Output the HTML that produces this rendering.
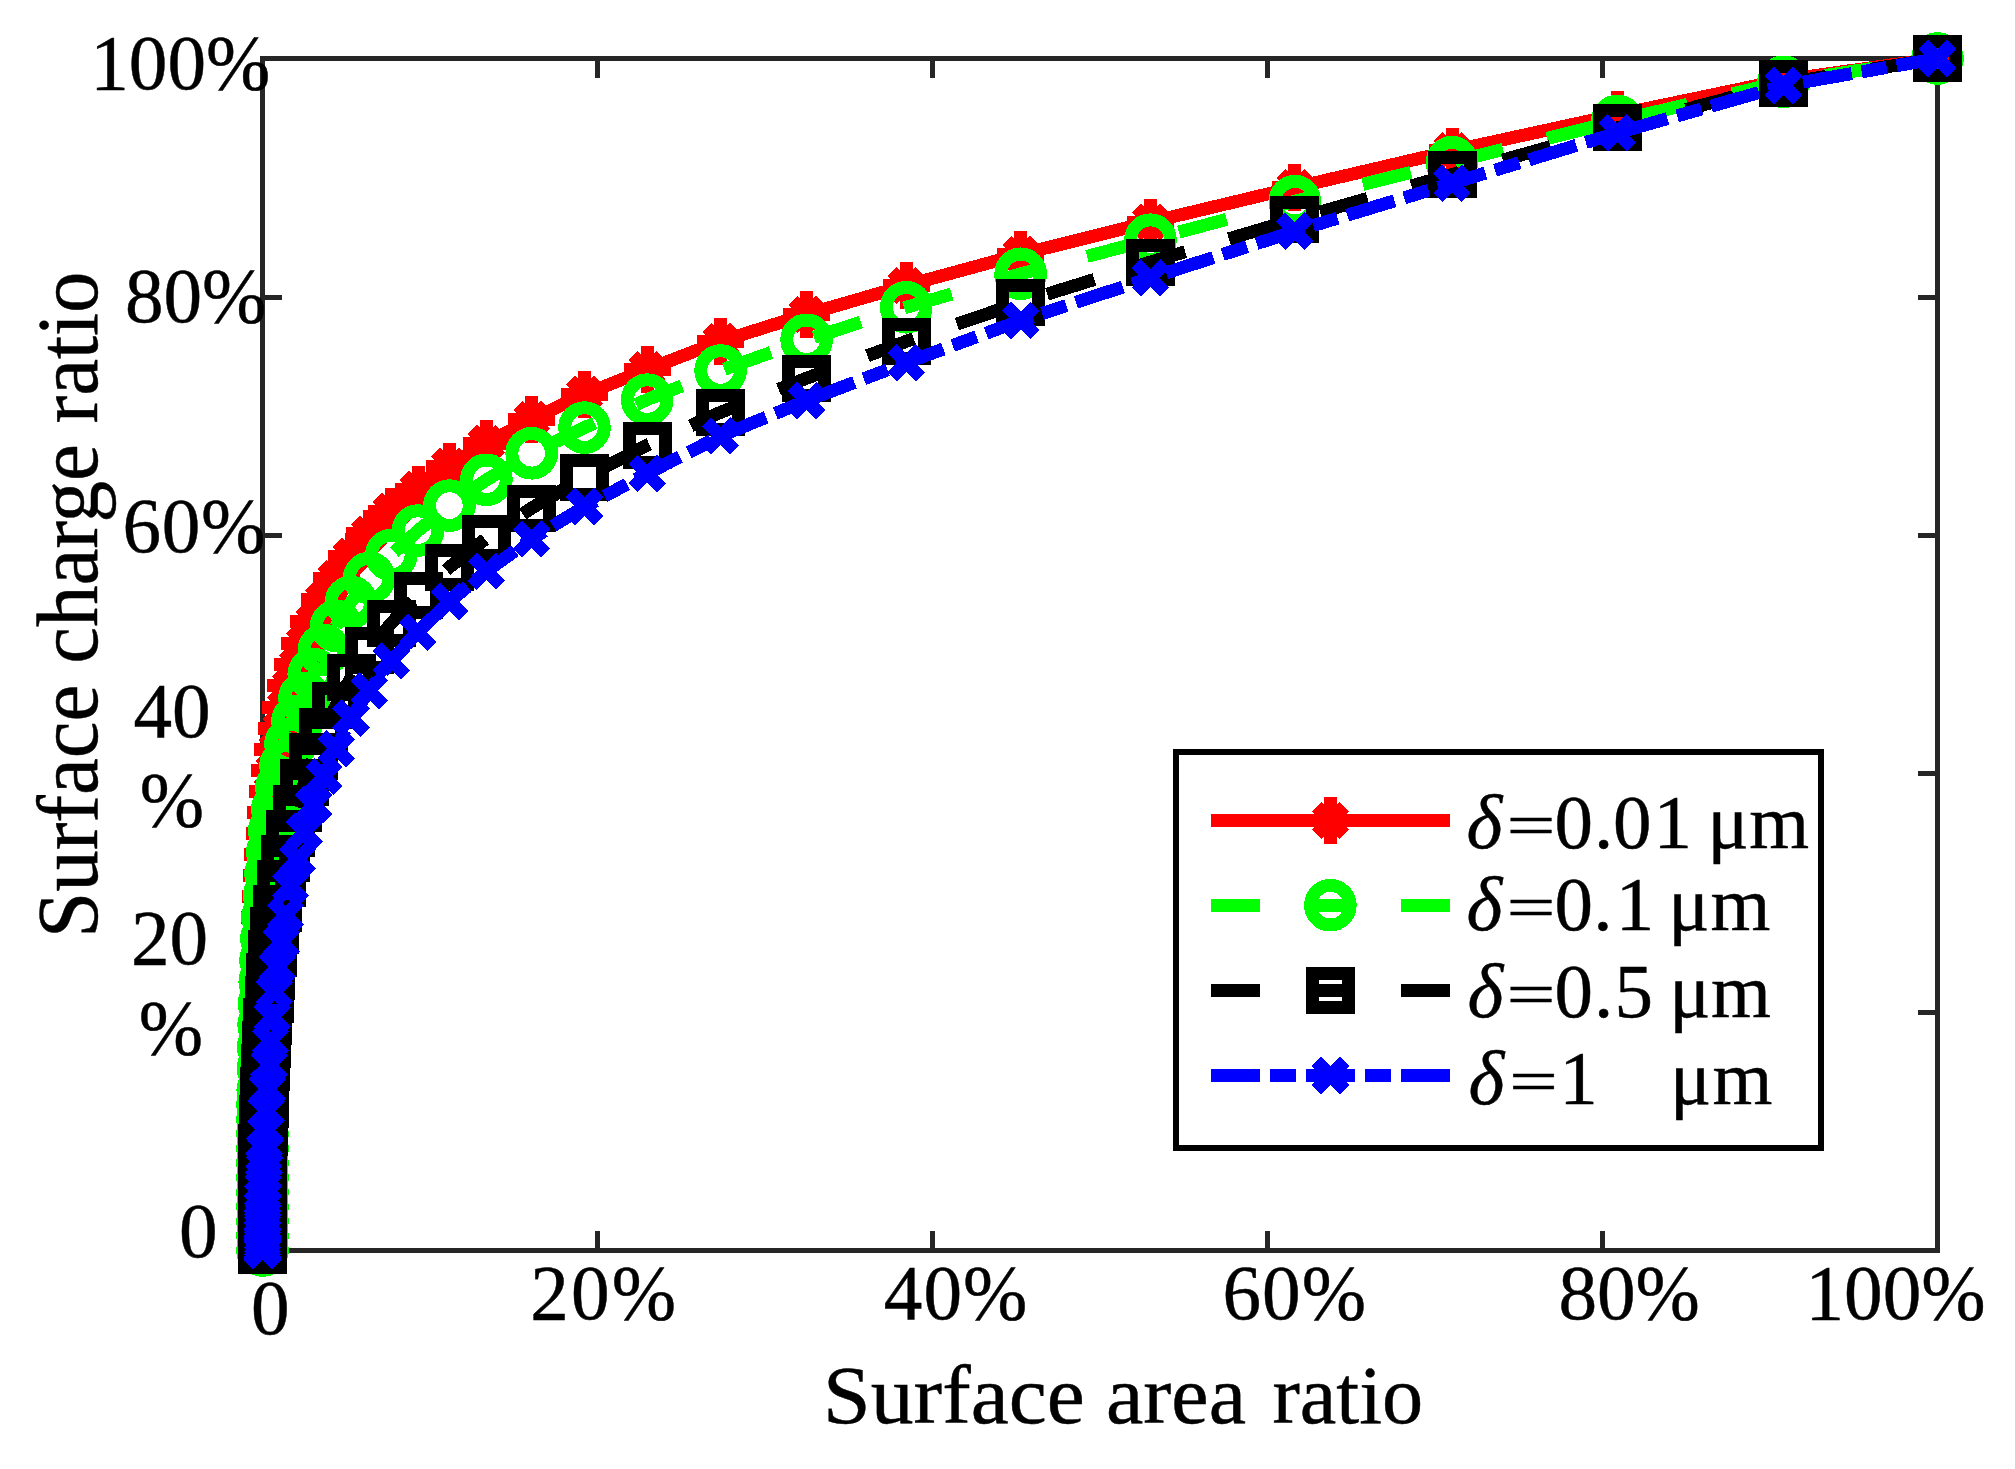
<!DOCTYPE html>
<html><head><meta charset="utf-8"><title>Surface charge ratio</title><style>html,body{margin:0;padding:0;background:#fff}svg{display:block}</style></head><body>
<svg width="2015" height="1469" viewBox="0 0 2015 1469" font-family="'Liberation Serif', serif" fill="#000">
<style>text{stroke:#000;stroke-width:0.45px}</style>
<rect width="2015" height="1469" fill="#fff"/>
<g stroke="#262626" stroke-width="4.8" fill="none" shape-rendering="crispEdges">
<rect x="262.5" y="58.75" width="1675.0" height="1191.75"/>
<path d="M597.5 1250.5v-19.5M597.5 58.75v19.5M262.5 1012.1h19.5M1937.5 1012.1h-19.5M932.5 1250.5v-19.5M932.5 58.75v19.5M262.5 773.8h19.5M1937.5 773.8h-19.5M1267.5 1250.5v-19.5M1267.5 58.75v19.5M262.5 535.5h19.5M1937.5 535.5h-19.5M1602.5 1250.5v-19.5M1602.5 58.75v19.5M262.5 297.1h19.5M1937.5 297.1h-19.5"/>
</g>
<g stroke="#ff0000" stroke-width="13" fill="none" shape-rendering="crispEdges">
<polyline points="1937.5,58.5 1783.5,80 1617.3,114.7 1452,150.8 1294.8,187.5 1150.5,222 1020.7,254.2 906.2,285.5 806.6,314.3 720.6,341.3 647.2,369.4 584.5,394.3 531.7,419.2 486.4,443.3 449.4,466.2 418,489.1 391.3,511.4 369.2,533.7 351,556 336.2,578.4 323.9,599.8 313.7,621.5 304.5,643.3 297.5,664.4 290.5,685.5 285.5,707.3 281.4,728.4 277.3,749.4 274.3,770.4 272.3,791.4 270.5,812.4 269.2,833.4 267.4,854.4 266.4,875.4 265.5,896.4 264.7,917.5 264.1,938.5 263.6,959.5 263.2,980.6 262.9,1001.6 262.7,1022.6 262.5,1043.7 262.5,1064.7 262.5,1085.8 262.5,1106.8 262.5,1127.8 262.5,1148.9 262.5,1169.9 262.5,1190.9 262.5,1212 262.5,1233 262.5,1250.5" />
<path d="M1937.5 35.2V81.8M1914.2 58.5H1960.8M1923.6 44.6L1951.4 72.4M1923.6 72.4L1951.4 44.6"/>
<path d="M1783.5 56.7V103.3M1760.2 80H1806.8M1769.6 66.1L1797.4 93.9M1769.6 93.9L1797.4 66.1"/>
<path d="M1617.3 91.4V138M1594 114.7H1640.6M1603.4 100.8L1631.2 128.6M1603.4 128.6L1631.2 100.8"/>
<path d="M1452 127.5V174.1M1428.7 150.8H1475.3M1438.1 136.9L1465.9 164.7M1438.1 164.7L1465.9 136.9"/>
<path d="M1294.8 164.2V210.8M1271.5 187.5H1318.1M1280.9 173.6L1308.7 201.4M1280.9 201.4L1308.7 173.6"/>
<path d="M1150.5 198.7V245.3M1127.2 222H1173.8M1136.6 208.1L1164.4 235.9M1136.6 235.9L1164.4 208.1"/>
<path d="M1020.7 230.9V277.5M997.4 254.2H1044M1006.8 240.3L1034.6 268.1M1006.8 268.1L1034.6 240.3"/>
<path d="M906.2 262.2V308.8M882.9 285.5H929.5M892.3 271.6L920.1 299.4M892.3 299.4L920.1 271.6"/>
<path d="M806.6 291V337.6M783.3 314.3H829.9M792.7 300.4L820.5 328.2M792.7 328.2L820.5 300.4"/>
<path d="M720.6 318V364.6M697.3 341.3H743.9M706.7 327.4L734.5 355.2M706.7 355.2L734.5 327.4"/>
<path d="M647.2 346.1V392.7M623.9 369.4H670.5M633.3 355.5L661.1 383.3M633.3 383.3L661.1 355.5"/>
<path d="M584.5 371V417.6M561.2 394.3H607.8M570.6 380.4L598.4 408.2M570.6 408.2L598.4 380.4"/>
<path d="M531.7 395.9V442.5M508.4 419.2H555M517.8 405.3L545.6 433.1M517.8 433.1L545.6 405.3"/>
<path d="M486.4 420V466.6M463.1 443.3H509.7M472.5 429.4L500.3 457.2M472.5 457.2L500.3 429.4"/>
<path d="M449.4 442.9V489.5M426.1 466.2H472.7M435.5 452.3L463.3 480.1M435.5 480.1L463.3 452.3"/>
<path d="M418 465.8V512.4M394.7 489.1H441.3M404.1 475.2L431.9 503M404.1 503L431.9 475.2"/>
<path d="M391.3 488.1V534.7M368 511.4H414.6M377.4 497.5L405.2 525.3M377.4 525.3L405.2 497.5"/>
<path d="M369.2 510.4V557M345.9 533.7H392.5M355.3 519.8L383.1 547.6M355.3 547.6L383.1 519.8"/>
<path d="M351 532.7V579.3M327.7 556H374.3M337.1 542.1L364.9 569.9M337.1 569.9L364.9 542.1"/>
<path d="M336.2 555.1V601.7M312.9 578.4H359.5M322.3 564.5L350.1 592.3M322.3 592.3L350.1 564.5"/>
<path d="M323.9 576.5V623.1M300.6 599.8H347.2M310 585.9L337.8 613.7M310 613.7L337.8 585.9"/>
<path d="M313.7 598.2V644.8M290.4 621.5H337M299.8 607.6L327.6 635.4M299.8 635.4L327.6 607.6"/>
<path d="M304.5 620V666.6M281.2 643.3H327.8M290.6 629.4L318.4 657.2M290.6 657.2L318.4 629.4"/>
<path d="M297.5 641.1V687.7M274.2 664.4H320.8M283.6 650.5L311.4 678.3M283.6 678.3L311.4 650.5"/>
<path d="M290.5 662.2V708.8M267.2 685.5H313.8M276.6 671.6L304.4 699.4M276.6 699.4L304.4 671.6"/>
<path d="M285.5 684V730.6M262.2 707.3H308.8M271.6 693.4L299.4 721.2M271.6 721.2L299.4 693.4"/>
<path d="M281.4 705.1V751.7M258.1 728.4H304.7M267.5 714.5L295.3 742.3M267.5 742.3L295.3 714.5"/>
<path d="M277.3 726.1V772.7M254 749.4H300.6M263.4 735.5L291.2 763.3M263.4 763.3L291.2 735.5"/>
<path d="M274.3 747.1V793.7M251 770.4H297.6M260.4 756.5L288.2 784.3M260.4 784.3L288.2 756.5"/>
<path d="M272.3 768.1V814.7M249 791.4H295.6M258.4 777.5L286.2 805.3M258.4 805.3L286.2 777.5"/>
<path d="M270.5 789.1V835.7M247.2 812.4H293.8M256.6 798.5L284.4 826.3M256.6 826.3L284.4 798.5"/>
<path d="M269.2 810.1V856.7M245.9 833.4H292.5M255.3 819.5L283.1 847.3M255.3 847.3L283.1 819.5"/>
<path d="M267.4 831.1V877.7M244.1 854.4H290.7M253.5 840.5L281.3 868.3M253.5 868.3L281.3 840.5"/>
<path d="M266.4 852.1V898.7M243.1 875.4H289.7M252.5 861.5L280.3 889.3M252.5 889.3L280.3 861.5"/>
<path d="M265.5 873.1V919.7M242.2 896.4H288.8M251.6 882.5L279.4 910.3M251.6 910.3L279.4 882.5"/>
<path d="M264.7 894.2V940.8M241.4 917.5H288M250.8 903.6L278.6 931.4M250.8 931.4L278.6 903.6"/>
<path d="M264.1 915.2V961.8M240.8 938.5H287.4M250.2 924.6L278 952.4M250.2 952.4L278 924.6"/>
<path d="M263.6 936.2V982.8M240.3 959.5H286.9M249.7 945.6L277.5 973.4M249.7 973.4L277.5 945.6"/>
<path d="M263.2 957.3V1003.9M239.9 980.6H286.5M249.3 966.7L277.1 994.5M249.3 994.5L277.1 966.7"/>
<path d="M262.9 978.3V1024.9M239.6 1001.6H286.2M249 987.7L276.8 1015.5M249 1015.5L276.8 987.7"/>
<path d="M262.7 999.3V1045.9M239.4 1022.6H286M248.8 1008.7L276.6 1036.5M248.8 1036.5L276.6 1008.7"/>
<path d="M262.5 1020.4V1067M239.2 1043.7H285.8M248.6 1029.8L276.4 1057.6M248.6 1057.6L276.4 1029.8"/>
<path d="M262.5 1041.4V1088M239.2 1064.7H285.8M248.6 1050.8L276.4 1078.6M248.6 1078.6L276.4 1050.8"/>
<path d="M262.5 1062.5V1109.1M239.2 1085.8H285.8M248.6 1071.9L276.4 1099.7M248.6 1099.7L276.4 1071.9"/>
<path d="M262.5 1083.5V1130.1M239.2 1106.8H285.8M248.6 1092.9L276.4 1120.7M248.6 1120.7L276.4 1092.9"/>
<path d="M262.5 1104.5V1151.1M239.2 1127.8H285.8M248.6 1113.9L276.4 1141.7M248.6 1141.7L276.4 1113.9"/>
<path d="M262.5 1125.6V1172.2M239.2 1148.9H285.8M248.6 1135L276.4 1162.8M248.6 1162.8L276.4 1135"/>
<path d="M262.5 1146.6V1193.2M239.2 1169.9H285.8M248.6 1156L276.4 1183.8M248.6 1183.8L276.4 1156"/>
<path d="M262.5 1167.6V1214.2M239.2 1190.9H285.8M248.6 1177L276.4 1204.8M248.6 1204.8L276.4 1177"/>
<path d="M262.5 1188.7V1235.3M239.2 1212H285.8M248.6 1198.1L276.4 1225.9M248.6 1225.9L276.4 1198.1"/>
<path d="M262.5 1209.7V1256.3M239.2 1233H285.8M248.6 1219.1L276.4 1246.9M248.6 1246.9L276.4 1219.1"/>
<path d="M262.5 1227.2V1273.8M239.2 1250.5H285.8M248.6 1236.6L276.4 1264.4M248.6 1264.4L276.4 1236.6"/>
</g>
<g stroke="#00ff00" stroke-width="13" fill="none" shape-rendering="crispEdges">
<polyline points="1937.5,58.5 1783.5,81.8 1617.3,120.9 1452,162.2 1294.8,201.2 1150.5,239.7 1020.7,273.8 906.2,307.3 806.6,339.8 720.6,370.5 647.2,399.6 584.5,427.6 531.7,453.3 486.4,479.8 449.4,505.6 418,530.6 391.3,555 369.2,578 351,602 336.2,626 323.9,650 313.7,674 304.5,698 297.5,721 290.5,744 285.5,765.6 281.4,787.2 277.3,808.9 274.3,830.5 272.3,852.1 270.5,873.8 269.2,895.4 267.4,917 266.4,938.6 265.5,960.2 264.7,981.9 264.1,1003.5 263.6,1025.1 263.2,1046.8 262.9,1068.4 262.7,1090 262.5,1104.6 262.5,1119.2 262.5,1133.8 262.5,1148.4 262.5,1163 262.5,1177.5 262.5,1192.1 262.5,1206.7 262.5,1221.3 262.5,1235.9 262.5,1250.5" stroke-dasharray="49.5 45.5" stroke-dashoffset="30.7"/>
<circle cx="1937.5" cy="58.5" r="19.8"/>
<circle cx="1783.5" cy="81.8" r="19.8"/>
<circle cx="1617.3" cy="120.9" r="19.8"/>
<circle cx="1452" cy="162.2" r="19.8"/>
<circle cx="1294.8" cy="201.2" r="19.8"/>
<circle cx="1150.5" cy="239.7" r="19.8"/>
<circle cx="1020.7" cy="273.8" r="19.8"/>
<circle cx="906.2" cy="307.3" r="19.8"/>
<circle cx="806.6" cy="339.8" r="19.8"/>
<circle cx="720.6" cy="370.5" r="19.8"/>
<circle cx="647.2" cy="399.6" r="19.8"/>
<circle cx="584.5" cy="427.6" r="19.8"/>
<circle cx="531.7" cy="453.3" r="19.8"/>
<circle cx="486.4" cy="479.8" r="19.8"/>
<circle cx="449.4" cy="505.6" r="19.8"/>
<circle cx="418" cy="530.6" r="19.8"/>
<circle cx="391.3" cy="555" r="19.8"/>
<circle cx="369.2" cy="578" r="19.8"/>
<circle cx="351" cy="602" r="19.8"/>
<circle cx="336.2" cy="626" r="19.8"/>
<circle cx="323.9" cy="650" r="19.8"/>
<circle cx="313.7" cy="674" r="19.8"/>
<circle cx="304.5" cy="698" r="19.8"/>
<circle cx="297.5" cy="721" r="19.8"/>
<circle cx="290.5" cy="744" r="19.8"/>
<circle cx="285.5" cy="765.6" r="19.8"/>
<circle cx="281.4" cy="787.2" r="19.8"/>
<circle cx="277.3" cy="808.9" r="19.8"/>
<circle cx="274.3" cy="830.5" r="19.8"/>
<circle cx="272.3" cy="852.1" r="19.8"/>
<circle cx="270.5" cy="873.8" r="19.8"/>
<circle cx="269.2" cy="895.4" r="19.8"/>
<circle cx="267.4" cy="917" r="19.8"/>
<circle cx="266.4" cy="938.6" r="19.8"/>
<circle cx="265.5" cy="960.2" r="19.8"/>
<circle cx="264.7" cy="981.9" r="19.8"/>
<circle cx="264.1" cy="1003.5" r="19.8"/>
<circle cx="263.6" cy="1025.1" r="19.8"/>
<circle cx="263.2" cy="1046.8" r="19.8"/>
<circle cx="262.9" cy="1068.4" r="19.8"/>
<circle cx="262.7" cy="1090" r="19.8"/>
<circle cx="262.5" cy="1104.6" r="19.8"/>
<circle cx="262.5" cy="1119.2" r="19.8"/>
<circle cx="262.5" cy="1133.8" r="19.8"/>
<circle cx="262.5" cy="1148.4" r="19.8"/>
<circle cx="262.5" cy="1163" r="19.8"/>
<circle cx="262.5" cy="1177.5" r="19.8"/>
<circle cx="262.5" cy="1192.1" r="19.8"/>
<circle cx="262.5" cy="1206.7" r="19.8"/>
<circle cx="262.5" cy="1221.3" r="19.8"/>
<circle cx="262.5" cy="1235.9" r="19.8"/>
<circle cx="262.5" cy="1250.5" r="19.8"/>
</g>
<g stroke="#000000" stroke-width="13" fill="none" shape-rendering="crispEdges">
<polyline points="1937.5,58.5 1783.5,83.4 1617.3,127.9 1452,174.4 1294.8,219.3 1150.5,262 1020.7,302.4 906.2,341.4 806.6,378.2 720.6,412.3 647.2,445.3 584.5,477.3 531.7,508 486.4,538.2 449.4,567.2 418,595.6 391.3,623 369.2,650.5 351,677.5 336.2,705 323.9,731 313.7,756.5 304.5,782 297.5,808 290.5,833 285.5,858 281.4,883 277.3,908 274.3,930.8 272.3,953.5 270.5,976.2 269.2,999 267.4,1021.8 266.4,1044.5 265.5,1067.2 264.7,1090 264.1,1104.3 263.6,1118.6 263.2,1132.9 262.9,1147.1 262.7,1161.4 262.5,1175.7 262.5,1190 262.5,1196.7 262.5,1203.4 262.5,1210.2 262.5,1216.9 262.5,1223.6 262.5,1230.3 262.5,1237.1 262.5,1243.8 262.5,1250.5" stroke-dasharray="49.5 45.5" stroke-dashoffset="77.5"/>
<rect x="1919.5" y="41.5" width="36" height="34"/>
<rect x="1765.5" y="66.4" width="36" height="34"/>
<rect x="1599.3" y="110.9" width="36" height="34"/>
<rect x="1434" y="157.4" width="36" height="34"/>
<rect x="1276.8" y="202.3" width="36" height="34"/>
<rect x="1132.5" y="245" width="36" height="34"/>
<rect x="1002.7" y="285.4" width="36" height="34"/>
<rect x="888.2" y="324.4" width="36" height="34"/>
<rect x="788.6" y="361.2" width="36" height="34"/>
<rect x="702.6" y="395.3" width="36" height="34"/>
<rect x="629.2" y="428.3" width="36" height="34"/>
<rect x="566.5" y="460.3" width="36" height="34"/>
<rect x="513.7" y="491" width="36" height="34"/>
<rect x="468.4" y="521.2" width="36" height="34"/>
<rect x="431.4" y="550.2" width="36" height="34"/>
<rect x="400" y="578.6" width="36" height="34"/>
<rect x="373.3" y="606" width="36" height="34"/>
<rect x="351.2" y="633.5" width="36" height="34"/>
<rect x="333" y="660.5" width="36" height="34"/>
<rect x="318.2" y="688" width="36" height="34"/>
<rect x="305.9" y="714" width="36" height="34"/>
<rect x="295.7" y="739.5" width="36" height="34"/>
<rect x="286.5" y="765" width="36" height="34"/>
<rect x="279.5" y="791" width="36" height="34"/>
<rect x="272.5" y="816" width="36" height="34"/>
<rect x="267.5" y="841" width="36" height="34"/>
<rect x="263.4" y="866" width="36" height="34"/>
<rect x="259.3" y="891" width="36" height="34"/>
<rect x="256.3" y="913.8" width="36" height="34"/>
<rect x="254.3" y="936.5" width="36" height="34"/>
<rect x="252.5" y="959.2" width="36" height="34"/>
<rect x="251.2" y="982" width="36" height="34"/>
<rect x="249.4" y="1004.8" width="36" height="34"/>
<rect x="248.4" y="1027.5" width="36" height="34"/>
<rect x="247.5" y="1050.2" width="36" height="34"/>
<rect x="246.7" y="1073" width="36" height="34"/>
<rect x="246.1" y="1087.3" width="36" height="34"/>
<rect x="245.6" y="1101.6" width="36" height="34"/>
<rect x="245.2" y="1115.9" width="36" height="34"/>
<rect x="244.9" y="1130.1" width="36" height="34"/>
<rect x="244.7" y="1144.4" width="36" height="34"/>
<rect x="244.5" y="1158.7" width="36" height="34"/>
<rect x="244.5" y="1173" width="36" height="34"/>
<rect x="244.5" y="1179.7" width="36" height="34"/>
<rect x="244.5" y="1186.4" width="36" height="34"/>
<rect x="244.5" y="1193.2" width="36" height="34"/>
<rect x="244.5" y="1199.9" width="36" height="34"/>
<rect x="244.5" y="1206.6" width="36" height="34"/>
<rect x="244.5" y="1213.3" width="36" height="34"/>
<rect x="244.5" y="1220.1" width="36" height="34"/>
<rect x="244.5" y="1226.8" width="36" height="34"/>
<rect x="244.5" y="1233.5" width="36" height="34"/>
</g>
<g stroke="#0000ff" stroke-width="13" fill="none" shape-rendering="crispEdges">
<polyline points="1937.5,58.5 1783.5,85.6 1617.3,132.9 1452,183.3 1294.8,231.2 1150.5,277.9 1020.7,320.5 906.2,362.7 806.6,400.6 720.6,436 647.2,473.6 584.5,506.6 531.7,538.9 486.4,571.2 449.4,601.5 418,632.2 391.3,660.7 369.2,690.5 351,718 336.2,748.8 323.9,776.7 313.7,804.6 304.5,831.8 297.5,859 290.5,886 285.5,915 281.4,942 277.3,967 274.3,992 272.3,1017 270.5,1041 269.2,1065 267.4,1089 266.4,1111 265.5,1131 264.7,1148 264.1,1163 263.6,1176 263.2,1187 262.9,1196.5 262.7,1205 262.5,1213 262.5,1220.5 262.5,1227 262.5,1233 262.5,1238 262.5,1242 262.5,1245 262.5,1247 262.5,1248.5 262.5,1249.7 262.5,1250.5" stroke-dasharray="49.5 10 25.5 10" stroke-dashoffset="8"/>
<path d="M1923.3 44.3L1951.7 72.7M1923.3 72.7L1951.7 44.3"/>
<path d="M1769.3 71.4L1797.7 99.8M1769.3 99.8L1797.7 71.4"/>
<path d="M1603.1 118.7L1631.5 147.1M1603.1 147.1L1631.5 118.7"/>
<path d="M1437.8 169.1L1466.2 197.5M1437.8 197.5L1466.2 169.1"/>
<path d="M1280.6 217L1309 245.4M1280.6 245.4L1309 217"/>
<path d="M1136.3 263.7L1164.7 292.1M1136.3 292.1L1164.7 263.7"/>
<path d="M1006.5 306.3L1034.9 334.7M1006.5 334.7L1034.9 306.3"/>
<path d="M892 348.5L920.4 376.9M892 376.9L920.4 348.5"/>
<path d="M792.4 386.4L820.8 414.8M792.4 414.8L820.8 386.4"/>
<path d="M706.4 421.8L734.8 450.2M706.4 450.2L734.8 421.8"/>
<path d="M633 459.4L661.4 487.8M633 487.8L661.4 459.4"/>
<path d="M570.3 492.4L598.7 520.8M570.3 520.8L598.7 492.4"/>
<path d="M517.5 524.7L545.9 553.1M517.5 553.1L545.9 524.7"/>
<path d="M472.2 557L500.6 585.4M472.2 585.4L500.6 557"/>
<path d="M435.2 587.3L463.6 615.7M435.2 615.7L463.6 587.3"/>
<path d="M403.8 618L432.2 646.4M403.8 646.4L432.2 618"/>
<path d="M377.1 646.5L405.5 674.9M377.1 674.9L405.5 646.5"/>
<path d="M355 676.3L383.4 704.7M355 704.7L383.4 676.3"/>
<path d="M336.8 703.8L365.2 732.2M336.8 732.2L365.2 703.8"/>
<path d="M322 734.6L350.4 763M322 763L350.4 734.6"/>
<path d="M309.7 762.5L338.1 790.9M309.7 790.9L338.1 762.5"/>
<path d="M299.5 790.4L327.9 818.8M299.5 818.8L327.9 790.4"/>
<path d="M290.3 817.6L318.7 846M290.3 846L318.7 817.6"/>
<path d="M283.3 844.8L311.7 873.2M283.3 873.2L311.7 844.8"/>
<path d="M276.3 871.8L304.7 900.2M276.3 900.2L304.7 871.8"/>
<path d="M271.3 900.8L299.7 929.2M271.3 929.2L299.7 900.8"/>
<path d="M267.2 927.8L295.6 956.2M267.2 956.2L295.6 927.8"/>
<path d="M263.1 952.8L291.5 981.2M263.1 981.2L291.5 952.8"/>
<path d="M260.1 977.8L288.5 1006.2M260.1 1006.2L288.5 977.8"/>
<path d="M258.1 1002.8L286.5 1031.2M258.1 1031.2L286.5 1002.8"/>
<path d="M256.3 1026.8L284.7 1055.2M256.3 1055.2L284.7 1026.8"/>
<path d="M255 1050.8L283.4 1079.2M255 1079.2L283.4 1050.8"/>
<path d="M253.2 1074.8L281.6 1103.2M253.2 1103.2L281.6 1074.8"/>
<path d="M252.2 1096.8L280.6 1125.2M252.2 1125.2L280.6 1096.8"/>
<path d="M251.3 1116.8L279.7 1145.2M251.3 1145.2L279.7 1116.8"/>
<path d="M250.5 1133.8L278.9 1162.2M250.5 1162.2L278.9 1133.8"/>
<path d="M249.9 1148.8L278.3 1177.2M249.9 1177.2L278.3 1148.8"/>
<path d="M249.4 1161.8L277.8 1190.2M249.4 1190.2L277.8 1161.8"/>
<path d="M249 1172.8L277.4 1201.2M249 1201.2L277.4 1172.8"/>
<path d="M248.7 1182.3L277.1 1210.7M248.7 1210.7L277.1 1182.3"/>
<path d="M248.5 1190.8L276.9 1219.2M248.5 1219.2L276.9 1190.8"/>
<path d="M248.3 1198.8L276.7 1227.2M248.3 1227.2L276.7 1198.8"/>
<path d="M248.3 1206.3L276.7 1234.7M248.3 1234.7L276.7 1206.3"/>
<path d="M248.3 1212.8L276.7 1241.2M248.3 1241.2L276.7 1212.8"/>
<path d="M248.3 1218.8L276.7 1247.2M248.3 1247.2L276.7 1218.8"/>
<path d="M248.3 1223.8L276.7 1252.2M248.3 1252.2L276.7 1223.8"/>
<path d="M248.3 1227.8L276.7 1256.2M248.3 1256.2L276.7 1227.8"/>
<path d="M248.3 1230.8L276.7 1259.2M248.3 1259.2L276.7 1230.8"/>
<path d="M248.3 1232.8L276.7 1261.2M248.3 1261.2L276.7 1232.8"/>
<path d="M248.3 1234.3L276.7 1262.7M248.3 1262.7L276.7 1234.3"/>
<path d="M248.3 1235.5L276.7 1263.9M248.3 1263.9L276.7 1235.5"/>
<path d="M248.3 1236.3L276.7 1264.7M248.3 1264.7L276.7 1236.3"/>
</g>
<g shape-rendering="crispEdges">
<rect x="1176" y="751.6" width="645.4" height="396.6" fill="#fff" stroke="#000" stroke-width="6"/>
<g stroke="#ff0000" stroke-width="13" fill="none"><path d="M1210.8 820.5H1450.3" /><path d="M1330.4 797.2V843.8M1307.1 820.5H1353.7M1316.5 806.6L1344.3 834.4M1316.5 834.4L1344.3 806.6"/></g>
<g stroke="#00ff00" stroke-width="13" fill="none"><path d="M1210.8 905.2H1450.3" stroke-dasharray="49.5 45.5"/><circle cx="1330.4" cy="905.2" r="19.8"/></g>
<g stroke="#000000" stroke-width="13" fill="none"><path d="M1210.8 990.3H1450.3" stroke-dasharray="49.5 45.5"/><rect x="1312.4" y="973.3" width="36" height="34"/></g>
<g stroke="#0000ff" stroke-width="13" fill="none"><path d="M1210.8 1075.5H1450.3" stroke-dasharray="49.5 10 25.5 10"/><path d="M1316.2 1061.3L1344.6 1089.7M1316.2 1089.7L1344.6 1061.3"/></g>
</g>
<text y="848" font-size="77" xml:space="preserve"><tspan font-style="italic" x="1466.6">δ</tspan><tspan x="1554.6 1593.9 1613.1 1653.5 1673.5 1707.4 1749.2">0.01 μm</tspan></text><text transform="translate(1506.4 844.5) scale(1.13 0.78)" font-size="77">=</text>
<text y="930" font-size="77" xml:space="preserve"><tspan font-style="italic" x="1466.6">δ</tspan><tspan x="1554.6 1593.3 1615.8 1635.8 1668.2 1710.5">0.1 μm</tspan></text><text transform="translate(1506.4 926.5) scale(1.13 0.78)" font-size="77">=</text>
<text y="1017" font-size="77" xml:space="preserve"><tspan font-style="italic" x="1467.5">δ</tspan><tspan x="1554.6 1593.9 1614.4 1634.4 1669.2 1710.9">0.5 μm</tspan></text><text transform="translate(1506.4 1013.5) scale(1.13 0.78)" font-size="77">=</text>
<text y="1104.3" font-size="77" xml:space="preserve"><tspan font-style="italic" x="1468.4">δ</tspan><tspan x="1559.2 1579.2 1599.2 1619.2 1670.1 1712.4">1   μm</tspan></text><text transform="translate(1508.9 1100.8) scale(1.13 0.78)" font-size="77">=</text>
<text x="250.9" y="1334" font-size="77.2" letter-spacing="0">0</text>
<text x="530.2" y="1318.6" font-size="77.2" letter-spacing="2.2">20%</text>
<text x="883.8" y="1318.6" font-size="77.2" letter-spacing="1">40%</text>
<text x="1222.5" y="1318.6" font-size="77.2" letter-spacing="1">60%</text>
<text x="1558.3999999999999" y="1318.6" font-size="77.2" letter-spacing="0">80%</text>
<text x="1805.5" y="1318.6" font-size="77.2" letter-spacing="0">100%</text>
<text x="90.2" y="88.7" font-size="77.2" letter-spacing="0">100%</text>
<text x="124.89999999999999" y="321.8" font-size="77.2" letter-spacing="0">80%</text>
<text x="122.5" y="552" font-size="77.2" letter-spacing="0.7">60%</text>
<text x="133.4" y="737" font-size="77.2" letter-spacing="0">40</text>
<text x="139.70000000000002" y="826.3" font-size="77.2" letter-spacing="0">%</text>
<text x="130.9" y="964.3" font-size="77.2" letter-spacing="0">20</text>
<text x="138.8" y="1054" font-size="77.2" letter-spacing="0">%</text>
<text x="179.0" y="1257" font-size="77.2" letter-spacing="0">0</text>
<text transform="translate(823.1 1423) scale(1.045 1)" font-size="82">Surface</text>
<text transform="translate(1106 1423) scale(1.026 1)" font-size="82">area</text>
<text transform="translate(1272.4 1423) scale(1.003 1)" font-size="82">ratio</text>
<text transform="translate(97 938) rotate(-90) scale(0.965 1)" font-size="86">Surface charge ratio</text>
</svg>
</body></html>
